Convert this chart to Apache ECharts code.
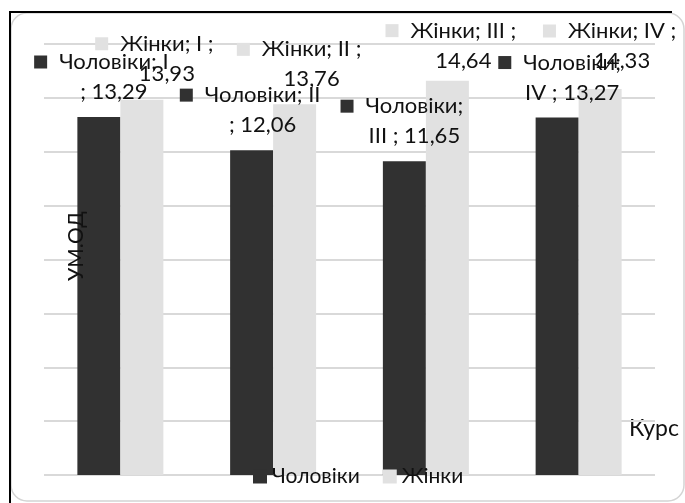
<!DOCTYPE html>
<html>
<head>
<meta charset="utf-8">
<script src="https://cdn.jsdelivr.net/npm/echarts@6/dist/echarts.min.js"></script>
<style>
html,body{margin:0;padding:0;background:#fff;}
#c{width:685px;height:503px;}
</style>
</head>
<body>
<div id="c"></div>
<script>
// ---- data ----
const categories = ['I', 'II', 'III', 'IV'];
const seriesNames = ['Чоловіки', 'Жінки'];
const menValues = [13.29, 12.06, 11.65, 13.27];
const womenValues = [13.93, 13.76, 14.64, 14.33];
const yTicks = [0, 2, 4, 6, 8, 10, 12, 14, 16];

// ---- label styling (wrap mode and offsets per label) ----
const menWrap = ['cat', 'cat', 'name', 'name'];
const womenWrap = ['sep', 'sep', 'sep', 'sep'];
const menOffsets = [[15, -10], [11, -10], [10, -10], [15, -10]];
const womenOffsets = [[25, -11], [17, -10], [16, -5], [22, -13]];

const DARK = '#313131';
const LIGHT = '#e1e1e1';
const FONT = 'Lato, "Open Sans", sans-serif';

function fmtVal(v) { return v.toFixed(2).replace('.', ','); }

function makeFormatter(wraps, sqKey) {
  return function (p) {
    const mode = wraps[p.dataIndex];
    const name = p.seriesName, cat = p.name, val = fmtVal(p.value);
    let l1, l2;
    if (mode === 'cat') { l1 = name + '; ' + cat; l2 = '; ' + val; }
    else if (mode === 'name') { l1 = name + ';'; l2 = cat + ' ; ' + val; }
    else { l1 = name + '; ' + cat + ' ;'; l2 = val; }
    return '{' + sqKey + '|}{gp|}' + l1 + '{pd|}\n' + l2;
  };
}

function makeData(values, offsets) {
  return values.map((v, i) => ({
    value: v,
    label: { offset: offsets[i] }
  }));
}

const richBase = {
  gp: { width: 12, height: 1 },
  pd: { width: 25, height: 1 },
  sqC: { width: 13, height: 13, backgroundColor: DARK },
  sqZ: { width: 13, height: 13, backgroundColor: LIGHT }
};

const labelCommon = {
  show: true,
  position: 'top',
  distance: 0,
  color: '#111',
  fontFamily: FONT,
  fontSize: 22,
  lineHeight: 30,
  rich: richBase
};

const chart = echarts.init(document.getElementById('c'), null, { renderer: 'canvas' });
chart.setOption({
  animation: false,
  backgroundColor: '#fff',
  grid: { left: 44, right: 30, top: 44, bottom: 28 },
  xAxis: {
    type: 'category',
    data: categories,
    axisLine: { show: false },
    axisTick: { show: false },
    axisLabel: { show: false }
  },
  yAxis: {
    type: 'value',
    min: yTicks[0],
    max: yTicks[yTicks.length - 1],
    interval: yTicks[1] - yTicks[0],
    axisLine: { show: false },
    axisTick: { show: false },
    axisLabel: { show: false },
    splitLine: { lineStyle: { color: '#d9d9d9', width: 2 } }
  },
  legend: {
    data: seriesNames,
    left: 248,
    top: 461,
    icon: 'rect',
    itemWidth: 14,
    itemHeight: 14,
    itemGap: 23,
    textStyle: { fontFamily: FONT, fontSize: 21, color: '#111' }
  },
  series: [
    {
      name: seriesNames[0],
      type: 'bar',
      data: makeData(menValues, menOffsets),
      itemStyle: { color: DARK },
      barGap: '0%',
      barCategoryGap: '43.7%',
      label: Object.assign({}, labelCommon, { formatter: makeFormatter(menWrap, 'sqC') })
    },
    {
      name: seriesNames[1],
      type: 'bar',
      data: makeData(womenValues, womenOffsets),
      itemStyle: { color: LIGHT },
      barGap: '0%',
      barCategoryGap: '43.7%',
      label: Object.assign({}, labelCommon, { formatter: makeFormatter(womenWrap, 'sqZ') })
    }
  ],
  graphic: [
    {
      type: 'rect', z: -1, silent: true,
      shape: { x: 11, y: 13, width: 673, height: 488, r: 16 },
      style: { fill: 'none', stroke: '#d4d4d4', lineWidth: 1.5 }
    },
    {
      type: 'line', silent: true,
      shape: { x1: 10, y1: 12, x2: 672, y2: 12 },
      style: { stroke: '#000', lineWidth: 2 }
    },
    {
      type: 'line', silent: true,
      shape: { x1: 10, y1: 11, x2: 10, y2: 503 },
      style: { stroke: '#000', lineWidth: 2 }
    },
    {
      type: 'text', silent: true,
      left: 629, top: 417,
      style: { text: 'Курс', fontFamily: FONT, fontSize: 23, fill: '#111' }
    },
    {
      type: 'text', silent: true, z: 10,
      x: 66, y: 281, rotation: Math.PI / 2,
      style: { text: 'УМ.ОД', fontFamily: FONT, fontSize: 21, fill: '#111' }
    }
  ]
});
</script>
</body>
</html>
